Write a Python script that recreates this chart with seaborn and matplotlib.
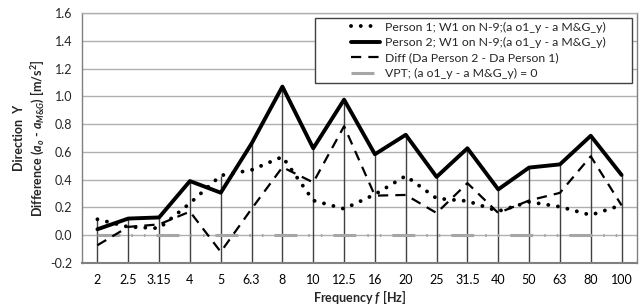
import numpy as np
import pandas as pd
import matplotlib
matplotlib.use("Agg")
import matplotlib.pyplot as plt
from matplotlib.legend_handler import HandlerLine2D
import seaborn as sns

# ─── Data ─────────────────────────────────────────────────────────────────────
freq_labels = ["2", "2.5", "3.15", "4", "5", "6.3", "8", "10", "12.5", "16",
               "20", "25", "31.5", "40", "50", "63", "80", "100"]
person1 = [0.115, 0.06, 0.05, 0.23, 0.43, 0.47, 0.565, 0.25, 0.19, 0.294,
           0.427, 0.265, 0.246, 0.173, 0.24, 0.205, 0.145, 0.217]
person2 = [0.043, 0.12, 0.128, 0.39, 0.306, 0.66, 1.07, 0.626, 0.976, 0.583,
           0.723, 0.42, 0.626, 0.33, 0.487, 0.51, 0.716, 0.434]
diff = [-0.072, 0.06, 0.078, 0.17, -0.12, 0.19, 0.49, 0.38, 0.785, 0.285,
        0.29, 0.16, 0.375, 0.16, 0.25, 0.305, 0.568, 0.215]
vpt = [0.0] * len(freq_labels)

series_names = [
    "Person 1; W1 on N-9;(a o1_y - a M&G_y)",
    "Person 2; W1 on N-9;(a o1_y - a M&G_y)",
    "Diff (Da Person 2 - Da Person 1)",
    "VPT; (a o1_y - a M&G_y) = 0",
]
y_ticks = [-0.2, 0.0, 0.2, 0.4, 0.6, 0.8, 1.0, 1.2, 1.4, 1.6]

FS = 9
LEG_FS = 8.8


class OffsetLineHandler(HandlerLine2D):
    """Legend line sample that starts a bit right of the handle box (Excel look)."""

    def __init__(self, offset, **kw):
        super().__init__(**kw)
        self.offset = offset

    def get_xdata(self, legend, xdescent, ydescent, width, height, fontsize):
        xdata = np.array([-xdescent + self.offset, -xdescent + width])
        return xdata, [0.5 * (xdata[0] + xdata[1])]


# ─── Style ────────────────────────────────────────────────────────────────────
sns.set_style("white")
plt.rcParams["font.family"] = ["Lato", "DejaVu Sans"]
plt.rcParams["mathtext.fontset"] = "custom"
plt.rcParams["mathtext.it"] = "Lato:italic:bold"
plt.rcParams["mathtext.rm"] = "Lato:bold"
plt.rcParams["mathtext.bf"] = "Lato:bold"

pos = np.arange(len(freq_labels))
df = pd.DataFrame({"pos": pos, "p1": person1, "p2": person2, "diff": diff, "vpt": vpt})

fig = plt.figure(figsize=(6.42, 3.06), dpi=100)
ax = fig.add_axes([82 / 642, 1 - 263 / 306, 555 / 642, 250 / 306])

# drop lines from the axis to the highest point of each category
tops = df[["p1", "p2", "diff", "vpt"]].max(axis=1)
ax.vlines(pos, -0.2, tops, color="#404040", linewidth=1.0, zorder=1)

styles = [
    dict(y="vpt", color="#a6a6a6", lw=2.2, ls=(0, (7.5, 3.6, 0.5, 3.6, 0.5, 3.6)), cap="butt"),
    dict(y="diff", color="black", lw=1.6, ls=(0, (4.6, 3.2)), cap="butt"),
    dict(y="p1", color="black", lw=2.8, ls=(0, (0.01, 2.5)), cap="round"),
    dict(y="p2", color="black", lw=2.8, ls="-", cap="butt"),
]
labels_by_col = {"p1": series_names[0], "p2": series_names[1],
                 "diff": series_names[2], "vpt": series_names[3]}
for st in styles:
    sns.lineplot(data=df, x="pos", y=st["y"], ax=ax, color=st["color"],
                 linewidth=st["lw"], linestyle=st["ls"], dash_capstyle=st["cap"],
                 label=labels_by_col[st["y"]], zorder=3)

ax.set_xlim(-0.5, len(freq_labels) - 0.5)
ax.set_ylim(-0.2, 1.6)
ax.set_xticks(pos)
ax.set_xticklabels(freq_labels)
ax.set_yticks(y_ticks)
ax.set_yticklabels([f"{v:.1f}" for v in y_ticks])
ax.tick_params(axis="x", length=0, pad=8, labelsize=FS, colors="black")
ax.tick_params(axis="y", length=4, width=1, color="#808080", pad=3, labelsize=FS)
ax.yaxis.grid(True, color="#b0b0b0", linewidth=1.0, zorder=0)
ax.set_axisbelow(True)

for side in ["left", "right", "top"]:
    ax.spines[side].set_color("#808080")
    ax.spines[side].set_linewidth(1.0)
ax.spines["top"].set_color("#b0b0b0")
ax.spines["bottom"].set_color("#808080")
ax.spines["bottom"].set_linewidth(1.5)

ax.set_xlabel(r"Frequency $f$ [Hz]", fontsize=FS, fontweight="bold", labelpad=1)
ax.set_ylabel("Direction  Y\n" + r"Difference ($a_o$ - $a_{M&G}$) [m/s$^2$]",
              fontsize=FS, fontweight="bold", labelpad=3, linespacing=1.25)

# legend in the order of the original, box stretched like Excel's
handles, labels = ax.get_legend_handles_labels()
order = [labels.index(n) for n in series_names]
px = LEG_FS * 100 / 72  # font size in pixels
handler = OffsetLineHandler(offset=23.5)
leg = ax.legend([handles[i] for i in order], [labels[i] for i in order],
                loc="upper left", bbox_to_anchor=((315 - 82) / 555, 0, 317 / 555, 0.98),
                mode="expand", fontsize=LEG_FS,
                frameon=True, fancybox=False, framealpha=1, edgecolor="#404040",
                handlelength=61.5 / px, handletextpad=5 / px, borderpad=0.3,
                labelspacing=0.36, borderaxespad=0,
                handler_map={h: handler for h in handles})
leg.get_frame().set_linewidth(1.0)

fig.savefig("out.png", dpi=100)
